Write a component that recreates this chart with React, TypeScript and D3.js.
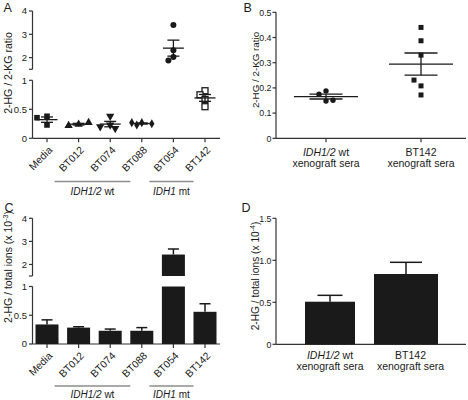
import React from "react";
import * as d3 from "d3";

// ---------- DATA ----------
const categories = ["Media", "BT012", "BT074", "BT088", "BT054", "BT142"];
const ptsMedia = [0.23, 0.38, 0.355];
const ptsBT012 = [0.24, 0.22, 0.27];
const ptsBT074 = [0.38, 0.23, 0.2, 0.17];
const ptsBT088 = [0.27, 0.23, 0.25, 0.27];
const ptsBT054 = [3.4, 2.32, 2.03, 1.88];
const ptsBT142 = [0.82, 0.75, 0.67, 0.545];

const xenoGroups = ["IDH1/2 wt", "BT142"];
const ptsXenoWt = [0.188, 0.175, 0.148, 0.151];
const ptsXenoBT142 = [0.44, 0.387, 0.33, 0.208, 0.231, 0.172];

const barsC = [0.34, 0.285, 0.23, 0.23, 2.43, 0.56];
const errC = [0.08, 0.015, 0.03, 0.055, 0.24, 0.14];

const barsD = [0.507, 0.837];
const errD = [0.076, 0.139];

const ticksLow = [0, 0.5, 1];
const ticksHigh = [2, 3, 4];
const ticksB = [0, 0.1, 0.2, 0.3, 0.4, 0.5];
const ticksD = [0, 0.5, 1.0, 1.5];

const groupLabels = [
  { italic: "IDH1/2", rest: " wt", from: "BT012", to: "BT088" },
  { italic: "IDH1", rest: " mt", from: "BT054", to: "BT142" },
];

// ---------- STYLE ----------
const FONT = "'Liberation Sans', Arial, Helvetica, sans-serif";
const INK = "#1a1a1a";
const AX = "#333";

function swarm(values: number[], y: (v: number) => number, step: number, dist: number) {
  const placed: { x: number; y: number }[] = [];
  return values.map((v) => {
    const py = y(v);
    const offs = [0];
    for (let k = 1; k < 8; k++) offs.push(-k * step, k * step);
    for (const o of offs) {
      const ok = placed.every((p) => Math.hypot(p.x - o, p.y - py) >= dist);
      if (ok) {
        placed.push({ x: o, y: py });
        return { dx: o, y: py, v };
      }
    }
    placed.push({ x: 0, y: py });
    return { dx: 0, y: py, v };
  });
}

function Marker({ kind, x, y }: { kind: string; x: number; y: number }) {
  if (kind === "square") return <rect x={x - 2.8} y={y - 2.8} width={5.6} height={5.6} fill={INK} />;
  if (kind === "bsquare") return <rect x={x - 2.5} y={y - 2.5} width={5} height={5} fill={INK} />;
  if (kind === "open")
    return <rect x={x - 3} y={y - 3} width={6} height={6} fill="#fff" stroke={INK} strokeWidth={1.3} />;
  if (kind === "circle") return <circle cx={x} cy={y} r={3} fill={INK} />;
  if (kind === "bcircle") return <circle cx={x} cy={y} r={2.7} fill={INK} />;
  const sym = kind === "diamond" ? d3.symbolDiamond : d3.symbolTriangle;
  const size = kind === "diamond" ? 24 : 30;
  const rot = kind === "down" ? 180 : 0;
  return (
    <path d={d3.symbol(sym, size)() || ""} transform={`translate(${x},${y}) rotate(${rot})`} fill={INK} />
  );
}

function GroupLabel({ x, y, italic, rest }: any) {
  return (
    <text x={x} y={y} textAnchor="middle" fontSize={10} fill={INK}>
      <tspan fontStyle="italic">{italic}</tspan>
      {rest}
    </text>
  );
}

function XCats({ x, y0, groupLineY, labelDy }: any) {
  return (
    <g>
      <line x1={32.5} x2={220} y1={y0} y2={y0} stroke={AX} strokeWidth={1.2} />
      {categories.map((c) => (
        <g key={c}>
          <line x1={x(c)} x2={x(c)} y1={y0} y2={y0 + 4} stroke={AX} strokeWidth={1.2} />
          <text
            transform={`translate(${x(c) + 6},${y0 + 12.5}) rotate(-45)`}
            textAnchor="end"
            fontSize={10.3}
            fill={INK}
          >
            {c}
          </text>
        </g>
      ))}
      {groupLabels.map((g) => {
        const x1 = x(g.from) - 24;
        const x2 = x(g.to) - 11.5;
        return (
          <g key={g.italic}>
            <line x1={x1} x2={x2} y1={groupLineY} y2={groupLineY} stroke="#8c8c8c" strokeWidth={1.5} />
            <GroupLabel x={(x1 + x2) / 2} y={groupLineY + labelDy} italic={g.italic} rest={g.rest} />
          </g>
        );
      })}
    </g>
  );
}

function BrokenY({ low, high }: any) {
  const ax = 32.5;
  return (
    <g>
      <line x1={ax} x2={ax} y1={high(4)} y2={high(1.5)} stroke={AX} strokeWidth={1.2} />
      <line x1={ax} x2={ax} y1={low(1)} y2={low(0)} stroke={AX} strokeWidth={1.2} />
      <line x1={ax - 3.5} x2={ax} y1={high(1.5)} y2={high(1.5)} stroke={AX} strokeWidth={1.2} />
      {ticksHigh.map((t) => (
        <g key={"h" + t}>
          <line x1={ax - 3.5} x2={ax} y1={high(t)} y2={high(t)} stroke={AX} strokeWidth={1.2} />
          <text x={ax - 5.5} y={high(t) + 3.3} textAnchor="end" fontSize={9.5} fill={INK}>
            {t}
          </text>
        </g>
      ))}
      {ticksLow.map((t) => (
        <g key={"l" + t}>
          <line x1={ax - 3.5} x2={ax} y1={low(t)} y2={low(t)} stroke={AX} strokeWidth={1.2} />
          <text x={ax - 5.5} y={low(t) + 3.3} textAnchor="end" fontSize={9.5} fill={INK}>
            {t}
          </text>
        </g>
      ))}
    </g>
  );
}

function MeanSem({ x, vals, y, half, cap }: any) {
  const m = d3.mean(vals) as number;
  const s = (d3.deviation(vals) as number) / Math.sqrt(vals.length);
  const ym = y(m), yt = y(m + s), yb = y(m - s);
  return (
    <g stroke={INK} strokeWidth={1.3}>
      <line x1={x - half} x2={x + half} y1={ym} y2={ym} />
      <line x1={x} x2={x} y1={yt} y2={yb} />
      <line x1={x - cap} x2={x + cap} y1={yt} y2={yt} />
      <line x1={x - cap} x2={x + cap} y1={yb} y2={yb} />
    </g>
  );
}

export default function App() {
  // ---- Panel A ----
  const xA = d3.scalePoint<string>().domain(categories).range([47, 205]);
  const yALow = d3.scaleLinear().domain([0, 1]).range([138.3, 80.3]);
  const yAHigh = d3.scaleLinear().domain([1.5, 4]).range([69.3, 11]);
  const yA = (v: number) => (v >= 1.5 ? yAHigh(v) : yALow(v));
  const seriesA = [
    { c: "Media", pts: ptsMedia, kind: "square" },
    { c: "BT012", pts: ptsBT012, kind: "up" },
    { c: "BT074", pts: ptsBT074, kind: "down" },
    { c: "BT088", pts: ptsBT088, kind: "diamond" },
    { c: "BT054", pts: ptsBT054, kind: "circle" },
    { c: "BT142", pts: ptsBT142, kind: "open" },
  ];

  // ---- Panel B ----
  const xB = d3.scalePoint<string>().domain(xenoGroups).range([326, 421]);
  const yB = d3.scaleLinear().domain([0, 0.5]).range([138.3, 12.3]);
  const seriesB = [
    { g: xenoGroups[0], pts: ptsXenoWt, kind: "bcircle" },
    { g: xenoGroups[1], pts: ptsXenoBT142, kind: "bsquare" },
  ];

  // ---- Panel C ----
  const xC = d3.scalePoint<string>().domain(categories).range([47, 205]);
  const yCLow = d3.scaleLinear().domain([0, 1]).range([344, 286.5]);
  const yCHigh = d3.scaleLinear().domain([1.5, 4]).range([276, 218.3]);
  const yC = (v: number) => (v >= 1.5 ? yCHigh(v) : yCLow(v));
  const bwC = 23;

  // ---- Panel D ----
  const yD = d3.scaleLinear().domain([0, 1.5]).range([344.3, 218.3]);
  const xD = d3.scaleOrdinal<string, number>().domain(xenoGroups).range([330, 406]);
  const bwD = d3.scaleOrdinal<string, number>().domain(xenoGroups).range([50, 64]);
  const fmt1 = (v: number) => (v === 0 ? "0" : d3.format(".1f")(v));

  const xenoLabel = (g: string, x: number, y: number) => (
    <text x={x} y={y} textAnchor="middle" fontSize={10.5} fill={INK}>
      {g === "BT142" ? (
        <tspan>BT142</tspan>
      ) : (
        <>
          <tspan fontStyle="italic">IDH1/2</tspan>
          <tspan> wt</tspan>
        </>
      )}
      <tspan x={x} dy={11}>
        xenograft sera
      </tspan>
    </text>
  );

  return (
    <svg
      width={468}
      height={400}
      style={{ position: "absolute", left: 0, top: 0, background: "#fff" }}
      fontFamily={FONT}
    >
      <rect width={468} height={400} fill="#fff" />
      {/* ===== Panel A ===== */}
      <text x={3.5} y={12} fontSize={12.5} fill={INK}>A</text>
      <text transform="translate(11.5,73) rotate(-90)" textAnchor="middle" fontSize={10.5} fill={INK}>
        2-HG / 2-KG ratio
      </text>
      <BrokenY low={yALow} high={yAHigh} />
      <XCats x={xA} y0={yALow(0)} groupLineY={181.5} labelDy={13} />
      {seriesA.map((s) => {
        const cx = xA(s.c) as number;
        const sw = swarm(s.pts, yA, 5, 5.5);
        return (
          <g key={s.c}>
            {sw.map((p, i) => (
              <Marker key={i} kind={s.kind} x={cx + p.dx} y={p.y} />
            ))}
            <MeanSem x={cx} vals={s.pts} y={yA} half={10.5} cap={6} />
          </g>
        );
      })}

      {/* ===== Panel B ===== */}
      <text x={243.5} y={12} fontSize={12.5} fill={INK}>B</text>
      <text transform="translate(258.5,70) rotate(-90)" textAnchor="middle" fontSize={9.8} fill={INK}>
        2-HG / 2-KG ratio
      </text>
      <line x1={276} x2={276} y1={yB(0.5)} y2={yB(0)} stroke={AX} strokeWidth={1.2} />
      <line x1={276} x2={466} y1={yB(0)} y2={yB(0)} stroke={AX} strokeWidth={1.2} />
      {ticksB.map((t) => (
        <g key={"b" + t}>
          <line x1={272.5} x2={276} y1={yB(t)} y2={yB(t)} stroke={AX} strokeWidth={1.2} />
          <text x={271.5} y={yB(t) + 3.3} textAnchor="end" fontSize={8.8} fill={INK}>
            {t === 0 ? "0" : d3.format(".1f")(t)}
          </text>
        </g>
      ))}
      {seriesB.map((s) => {
        const cx = xB(s.g) as number;
        const sw = swarm(s.pts, yB, 7, 6.5);
        return (
          <g key={s.g}>
            <line x1={cx} x2={cx} y1={yB(0)} y2={yB(0) + 4} stroke={AX} strokeWidth={1.2} />
            {sw.map((p, i) => (
              <Marker key={i} kind={s.kind} x={cx + p.dx} y={p.y} />
            ))}
            <MeanSem x={cx} vals={s.pts} y={yB} half={32} cap={16.5} />
            {xenoLabel(s.g, cx, 156)}
          </g>
        );
      })}

      {/* ===== Panel C ===== */}
      <text x={4.5} y={212} fontSize={12.5} fill={INK}>C</text>
      <text transform="translate(11.5,267) rotate(-90)" textAnchor="middle" fontSize={10.5} fill={INK}>
        2-HG / total ions (x 10
        <tspan dy={-4} fontSize={7}>-3</tspan>
        <tspan dy={4}>)</tspan>
      </text>
      <BrokenY low={yCLow} high={yCHigh} />
      <XCats x={xC} y0={yCLow(0)} groupLineY={386} labelDy={11.5} />
      {categories.map((c, i) => {
        const cx = xC(c) as number;
        const v = barsC[i];
        const e = errC[i];
        const x0 = cx - bwC / 2;
        return (
          <g key={"c" + c}>
            <rect x={x0} y={yCLow(Math.min(v, 1))} width={bwC} height={yCLow(0) - yCLow(Math.min(v, 1))} fill={INK} />
            {v >= 1.5 && (
              <rect x={x0} y={yCHigh(v)} width={bwC} height={yCHigh(1.5) - yCHigh(v)} fill={INK} />
            )}
            <g stroke={INK} strokeWidth={1.5}>
              <line x1={cx} x2={cx} y1={yC(v)} y2={yC(v + e)} />
              <line x1={cx - 5.5} x2={cx + 5.5} y1={yC(v + e)} y2={yC(v + e)} />
            </g>
          </g>
        );
      })}

      {/* ===== Panel D ===== */}
      <text x={241.5} y={212} fontSize={12.5} fill={INK}>D</text>
      <text transform="translate(258.5,276) rotate(-90)" textAnchor="middle" fontSize={10.2} fill={INK}>
        2-HG / total ions (x 10
        <tspan dy={-4} fontSize={7}>-4</tspan>
        <tspan dy={4}>)</tspan>
      </text>
      <line x1={276} x2={276} y1={yD(1.5)} y2={yD(0)} stroke={AX} strokeWidth={1.2} />
      <line x1={276} x2={466} y1={yD(0)} y2={yD(0)} stroke={AX} strokeWidth={1.2} />
      {ticksD.map((t) => (
        <g key={"d" + t}>
          <line x1={272.5} x2={276} y1={yD(t)} y2={yD(t)} stroke={AX} strokeWidth={1.2} />
          <text x={271.5} y={yD(t) + 3.3} textAnchor="end" fontSize={8.8} fill={INK}>
            {fmt1(t)}
          </text>
        </g>
      ))}
      {xenoGroups.map((g, i) => {
        const cx = xD(g);
        const w = bwD(g);
        const v = barsD[i];
        const e = errD[i];
        return (
          <g key={"d" + g}>
            <rect x={cx - w / 2} y={yD(v)} width={w} height={yD(0) - yD(v)} fill={INK} />
            <g stroke={INK} strokeWidth={1.5}>
              <line x1={cx} x2={cx} y1={yD(v)} y2={yD(v + e)} />
              <line x1={cx - w / 4} x2={cx + w / 4} y1={yD(v + e)} y2={yD(v + e)} />
            </g>
            {xenoLabel(g, g === "BT142" ? 410.5 : cx, 359)}
          </g>
        );
      })}
    </svg>
  );
}
